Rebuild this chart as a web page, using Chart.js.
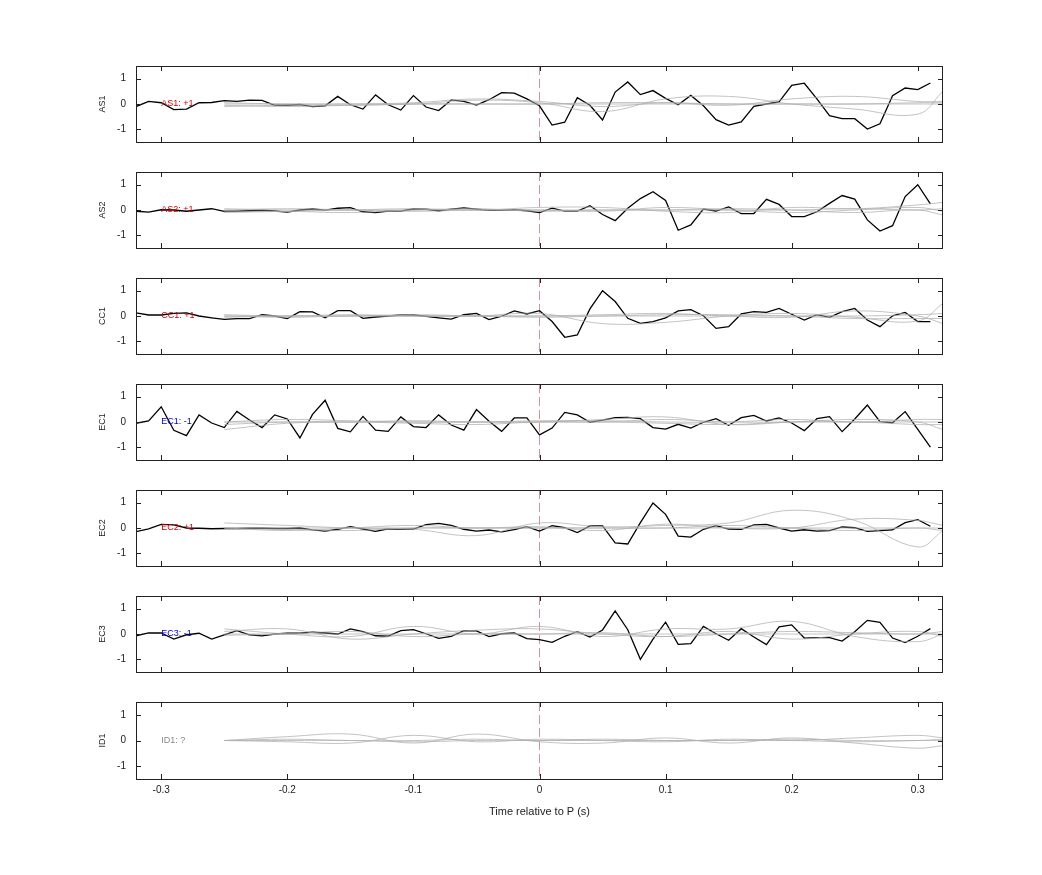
<!DOCTYPE html>
<html>
<head>
<meta charset="utf-8">
<script src="https://cdn.jsdelivr.net/npm/chart.js@4"></script>
<style>
  body { margin: 0; background: #fff; }
  #wrap { position: relative; width: 1042px; height: 875px; }
  .panel { position: absolute; left: 0; width: 1042px; }
</style>
</head>
<body>
<div id="wrap"></div>
<script>
// sample times of the black traces (s)
const times = []
for (let i = -32; i <= 31; i++) times.push(i / 100)
const grayTimes = [-0.25, -0.2, -0.15, -0.1, -0.05, 0, 0.05, 0.1, 0.15, 0.2, 0.25, 0.3, 0.32]
const xTicks = [-0.3, -0.2, -0.1, 0, 0.1, 0.2, 0.3]
const yTicks = [-1, 0, 1]

const channels = ['AS1', 'AS2', 'CC1', 'EC1', 'EC2', 'EC3', 'ID1']
const polarity = ['+1', '+1', '+1', '-1', '+1', '-1', '?']

const as1 = [-0.1,0.1,0.05,-0.22,-0.2,0.05,0.06,0.13,0.1,0.15,0.14,-0.05,-0.05,-0.02,-0.1,-0.07,0.3,-0.03,-0.2,0.36,-0.03,-0.24,0.33,-0.12,-0.26,0.16,0.1,-0.04,0.17,0.45,0.43,0.2,-0.07,-0.83,-0.72,0.25,-0.05,-0.63,0.47,0.87,0.37,0.53,0.22,-0.03,0.34,-0.07,-0.62,-0.83,-0.71,-0.09,0,0.08,0.74,0.82,0.2,-0.46,-0.58,-0.58,-0.99,-0.78,0.33,0.63,0.57,0.83]
const as2 = [-0.05,-0.08,0.01,0,-0.05,0,0.05,-0.05,-0.05,-0.03,-0.01,-0.04,-0.08,0,0.04,-0.01,0.07,0.09,-0.07,-0.1,-0.04,-0.04,0.04,0.03,-0.03,0.03,0.08,0.03,-0.01,0,0.01,-0.03,-0.1,0.07,-0.04,-0.04,0.17,-0.18,-0.42,0.07,0.45,0.72,0.38,-0.8,-0.59,0.04,-0.04,0.12,-0.14,-0.14,0.42,0.22,-0.26,-0.26,-0.07,0.26,0.57,0.43,-0.39,-0.83,-0.62,0.53,1.0,0.24]
const cc1 = [0.12,0.04,0.04,0.1,0.12,0,-0.07,-0.13,-0.1,-0.1,0.05,0,-0.1,0.17,0.16,-0.07,0.21,0.21,-0.09,-0.04,0,0.04,0.04,-0.01,-0.07,-0.12,0.05,0.1,-0.14,-0.01,0.2,0.08,0.21,-0.22,-0.84,-0.75,0.28,1.0,0.57,-0.09,-0.29,-0.22,-0.07,0.2,0.25,0.01,-0.49,-0.42,0.08,0.17,0.14,0.3,0.07,-0.16,0.05,-0.05,0.17,0.3,-0.16,-0.42,0.01,0.14,-0.22,-0.22]
const ec1 = [-0.05,0.04,0.6,-0.33,-0.54,0.28,-0.04,-0.22,0.42,0.08,-0.22,0.28,0.12,-0.63,0.3,0.86,-0.25,-0.39,0.22,-0.32,-0.37,0.2,-0.18,-0.22,0.28,-0.12,-0.32,0.49,0.03,-0.37,0.16,0.16,-0.51,-0.24,0.38,0.28,-0.01,0.07,0.17,0.18,0.13,-0.22,-0.28,-0.09,-0.24,-0.01,0.13,-0.13,0.17,0.26,0.04,0.16,-0.04,-0.34,0.13,0.21,-0.38,0.12,0.67,0.01,-0.03,0.41,-0.29,-0.99]
const ec2 = [-0.14,-0.03,0.14,0.12,0,-0.01,-0.03,-0.02,-0.02,-0.01,-0.01,-0.02,-0.02,0,-0.07,-0.12,-0.05,0.05,-0.04,-0.13,-0.03,-0.04,-0.04,0.13,0.18,0.1,-0.05,-0.12,-0.08,-0.15,-0.06,0.05,-0.12,0.09,0.01,-0.18,0.08,0.08,-0.59,-0.63,0.21,0.99,0.54,-0.32,-0.36,-0.05,0.09,-0.04,-0.05,0.12,0.14,0,-0.12,-0.07,-0.12,-0.1,0.04,0.01,-0.13,-0.1,-0.07,0.21,0.33,0.07]
const ec3 = [-0.07,0.04,0.04,-0.2,-0.03,0.03,-0.2,-0.03,0.13,-0.03,-0.07,0,0.03,0.03,0.07,0.04,0,0.2,0.09,-0.07,-0.08,0.13,0.17,0.01,-0.17,-0.09,0.13,0.12,-0.1,0.01,0.04,-0.18,-0.22,-0.33,-0.09,0.09,-0.12,0.16,0.91,0.17,-1.0,-0.2,0.47,-0.41,-0.38,0.3,0.01,-0.25,0.21,-0.12,-0.42,0.28,0.36,-0.16,-0.14,-0.14,-0.28,0.09,0.54,0.46,-0.16,-0.34,-0.09,0.21]
const blackSeries = [as1, as2, cc1, ec1, ec2, ec3, null]

// faint template traces, sampled at grayTimes
const grayAS1 = [
  [-0.05,-0.1,-0.05,0,0.15,0.05,-0.3,0.2,0.3,0,-0.2,-0.4,0.5],
  [0,0,0,0.05,0.2,0.1,-0.1,0.05,-0.05,0.2,0.3,0.1,0.1],
  [0.05,0,0,0,0,0,0,0,0,0,0,0.05,0.05],
  [-0.1,-0.05,-0.05,0,0,0,0.05,0.05,0,0,0,0,0]
]
const grayAS2 = [
  [-0.1,-0.05,0,0.05,0,0.1,0.1,-0.05,-0.1,0.1,0.05,0.2,0.3],
  [0,0.05,0,-0.05,0,0,-0.05,0.1,0,-0.1,0,0.1,-0.05],
  [0.05,0,0,0,0.05,-0.05,0,0,0.05,0,-0.1,0,-0.2],
  [-0.05,-0.05,-0.1,0,0,0,0,0,0,0,0.05,0,0.05]
]
const grayCC1 = [
  [0,0,0,0,0,0.1,-0.3,-0.25,0,0.1,-0.05,-0.2,0.5],
  [0.05,0,0.05,0,0,0,0.05,0.1,0,-0.05,0.2,0,-0.3],
  [-0.05,0,0,0.05,0,-0.05,0,0.05,0.05,0,-0.1,-0.1,-0.1],
  [0,-0.05,0,0,0,0,0,0,0,0,0,0.05,0.1]
]
const grayEC1 = [
  [-0.3,-0.05,0,0.05,0,0,0.1,0.2,-0.1,0,0.1,0,-0.3],
  [0,0.1,0.05,0,0,0.05,0.05,0,0,0.1,0,0.1,0.1],
  [0,0,0,-0.05,-0.1,0,0,-0.05,-0.1,0,0,-0.1,-0.1],
  [-0.1,0,0,0,0,0,0,0.1,0,0,0,0,0]
]
const grayEC2 = [
  [0.2,0.1,0,-0.05,-0.3,0.2,0.05,0.1,0.2,0.7,0.3,-0.75,-0.1],
  [0,-0.1,0,0.1,0,0.05,-0.1,0.15,0,0,0.35,0.3,0.1],
  [-0.05,-0.05,-0.1,0,0,0,0,0,0.1,0,-0.1,0,-0.1],
  [0,0,0,0,0,0,0,0,0,0,0,0,0]
]
const grayEC3 = [
  [0.2,0,-0.1,0.3,0,0.3,-0.1,0.2,0.2,0.5,-0.1,-0.3,0],
  [0.1,0.2,-0.2,0,0.15,0.2,0,-0.1,0.1,-0.2,0,0.1,-0.1],
  [-0.05,0,0.1,-0.1,0,0,0.05,-0.1,0,0.1,0.05,0,0.1],
  [0,0,0,0,0,0,0,0,0,0,0,0,0]
]
const grayID1 = [
  [0,0.15,0.25,-0.1,0.25,-0.05,-0.1,0.1,-0.1,0.1,-0.1,-0.3,-0.2],
  [0,-0.05,-0.1,0.2,-0.05,0.05,0,-0.05,0.05,0,0.1,0.2,0.1],
  [0,0.05,0,0,0.05,0,0.05,0,0,0.05,0,0,0.05],
  [0,0,0,-0.05,0,0,0,0,0,0,-0.05,0,0]
]
const graySeries = [grayAS1, grayAS2, grayCC1, grayEC1, grayEC2, grayEC3, grayID1]

const panelTops = [66, 172, 278, 384, 490, 596, 702]
const panelHeight = 76
const labelColors = { '+1': '#d40000', '-1': '#0000cc', '?': '#888888' }

const framePlugin = {
  id: 'frame',
  beforeDatasetsDraw(chart, args, opts) {
    const { ctx, chartArea: a, scales: { x } } = chart
    const px = x.getPixelForValue(0)
    ctx.save()
    ctx.strokeStyle = 'rgba(200,140,140,0.9)'
    ctx.lineWidth = 1
    ctx.setLineDash([9, 4])
    ctx.beginPath()
    ctx.moveTo(px, a.top)
    ctx.lineTo(px, a.bottom)
    ctx.stroke()
    ctx.restore()
  },
  afterDraw(chart, args, opts) {
    const { ctx, chartArea: a, scales: { x, y } } = chart
    ctx.save()
    ctx.strokeStyle = '#222'
    ctx.lineWidth = 1
    ctx.strokeRect(a.left + 0.5, a.top + 0.5, a.right - a.left - 1, a.bottom - a.top)
    ctx.beginPath()
    xTicks.forEach(t => {
      const p = Math.round(x.getPixelForValue(t)) + 0.5
      ctx.moveTo(p, a.top); ctx.lineTo(p, a.top + 5)
      ctx.moveTo(p, a.bottom); ctx.lineTo(p, a.bottom - 5)
    })
    yTicks.forEach(t => {
      const p = Math.round(y.getPixelForValue(t)) + 0.5
      ctx.moveTo(a.left, p); ctx.lineTo(a.left + 5, p)
      ctx.moveTo(a.right, p); ctx.lineTo(a.right - 5, p)
    })
    ctx.stroke()
    ctx.fillStyle = opts.color
    ctx.font = '9px "Liberation Sans", Arial, sans-serif'
    ctx.textBaseline = 'middle'
    ctx.fillText(opts.label, x.getPixelForValue(-0.3), y.getPixelForValue(0))
    ctx.restore()
  }
}

const wrap = document.getElementById('wrap')
channels.forEach((ch, i) => {
  const last = i === channels.length - 1
  const xAxisHeight = last ? 44 : 0
  let canvasTop = panelTops[i] - 10
  let canvasHeight = last ? 10 + panelHeight + 1 + xAxisHeight : 10 + panelHeight + 10

  const div = document.createElement('div')
  div.className = 'panel'
  div.style.top = canvasTop + 'px'
  div.style.height = canvasHeight + 'px'
  const canvas = document.createElement('canvas')
  div.appendChild(canvas)
  wrap.appendChild(div)

  const datasets = graySeries[i].map(g => ({
    data: grayTimes.map((t, k) => ({ x: t, y: g[k] })),
    borderColor: 'rgba(175,175,175,0.75)',
    borderWidth: 1,
    pointRadius: 0,
    tension: 0.4
  }))
  if (blackSeries[i]) {
    datasets.push({
      data: times.map((t, k) => ({ x: t, y: blackSeries[i][k] })),
      borderColor: '#000',
      borderWidth: 1.3,
      pointRadius: 0,
      tension: 0
    })
  }

  const chart = new Chart(canvas, {
    type: 'line',
    data: { datasets },
    options: {
      responsive: true,
      maintainAspectRatio: false,
      animation: false,
      layout: { padding: { top: 0, bottom: 0, left: 97, right: 99 } },
      plugins: {
        legend: { display: false },
        tooltip: { enabled: false },
        frame: { label: ch + ': ' + polarity[i], color: labelColors[polarity[i]] }
      },
      scales: {
        x: {
          type: 'linear',
          min: -0.32,
          max: 0.32,
          display: last,
          afterBuildTicks: s => { s.ticks = xTicks.map(v => ({ value: v })) },
          afterFit: s => { s.height = xAxisHeight },
          grid: { display: false, drawTicks: false },
          border: { display: false },
          ticks: {
            color: '#222',
            padding: 5,
            font: { size: 10, family: '"Liberation Sans", Arial, sans-serif' },
            callback: v => String(Math.round(v * 10) / 10)
          },
          title: {
            display: true,
            text: 'Time relative to P (s)',
            color: '#222',
            padding: { top: 14 },
            font: { size: 11, family: '"Liberation Sans", Arial, sans-serif' }
          }
        },
        y: {
          min: -1.5,
          max: 1.5,
          afterBuildTicks: s => { s.ticks = yTicks.map(v => ({ value: v })) },
          afterFit: s => { s.width = 39 },
          grid: { display: false, drawTicks: false },
          border: { display: false },
          ticks: {
            color: '#222',
            padding: 10,
            font: { size: 10, family: '"Liberation Sans", Arial, sans-serif' }
          },
          title: {
            display: true,
            text: ch,
            color: '#222',
            padding: 0,
            font: { size: 9, family: '"Liberation Sans", Arial, sans-serif' }
          }
        }
      }
    },
    plugins: [framePlugin]
  })

  // line the plot box up with the reference panel position
  for (let pass = 0; pass < 2; pass++) {
    const a = chart.chartArea
    canvasTop += panelTops[i] - (canvasTop + a.top)
    canvasHeight += panelHeight + (last ? 1 : 0) - (a.bottom - a.top)
    div.style.top = canvasTop + 'px'
    div.style.height = canvasHeight + 'px'
    chart.resize()
  }
})
</script>
</body>
</html>
